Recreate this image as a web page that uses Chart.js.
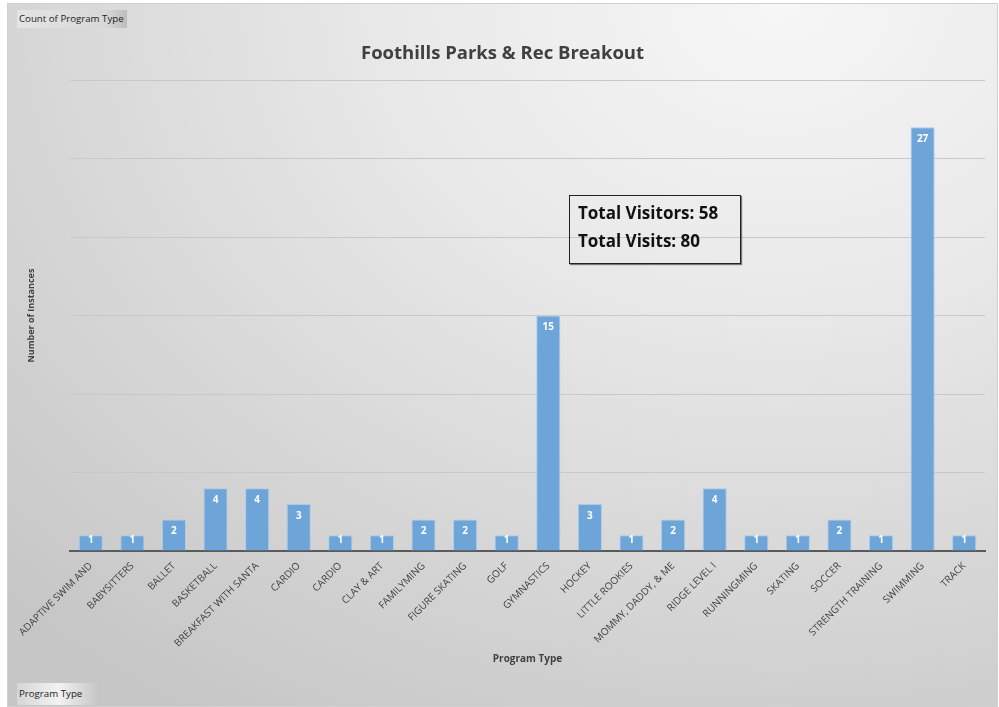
<!DOCTYPE html>
<html lang="en">
<head>
<meta charset="UTF-8">
<title>Foothills Parks & Rec Breakout</title>
<script src="https://cdn.jsdelivr.net/npm/chart.js"></script>
<style>
  html, body { margin: 0; padding: 0; background: #fff; }
  #frame {
    position: absolute; left: 7px; top: 3px; width: 989px; height: 702px;
    border: 1px solid #d0d0d0;
    background: radial-gradient(ellipse 110% 120% at 78% 0%, #f6f6f6 0%, #e9e9e9 35%, #d6d6d6 70%, #c6c6c6 100%);
  }
  #wrap { position: absolute; left: 0; top: 0; width: 999px; height: 707px; }
  .btn {
    position: absolute; font-family: "Open Sans", sans-serif; font-size: 9.7px; color: #222;
    padding: 0 2px; box-sizing: border-box;
  }
  #btnTop { left: 17px; top: 10px; width: 110px; height: 18px; line-height: 18px;
    background: linear-gradient(to right, #e4e4e4, #d8d8d8 80%, #bdbdbd); }
  #btnBottom { left: 17px; top: 683px; width: 84px; height: 22px; line-height: 22px;
    background: linear-gradient(to right, #d6d6d6, #f2f2f2 50%, #c2c2c2); }
  #totals {
    position: absolute; left: 569px; top: 195px; width: 172px; height: 69px; box-sizing: border-box;
    border: 1px solid #222; box-shadow: 1px 1px 1px #777;
    font-family: "Open Sans", sans-serif; font-weight: bold; font-size: 17px; color: #111;
    padding: 3px 0 0 8px; line-height: 28px;
  }
</style>
</head>
<body>
<div id="frame"></div>
<div id="wrap"><canvas id="programChart"></canvas></div>
<div class="btn" id="btnTop">Count of Program Type</div>
<div class="btn" id="btnBottom">Program Type</div>
<div id="totals">Total Visitors: 58<br>Total Visits: 80</div>
<script>
  // data
  const programs = [
    'ADAPTIVE SWIM AND', 'BABYSITTERS', 'BALLET', 'BASKETBALL', 'BREAKFAST WITH SANTA',
    'CARDIO', 'CARDIO', 'CLAY & ART', 'FAMILYMING', 'FIGURE SKATING', 'GOLF', 'GYMNASTICS',
    'HOCKEY', 'LITTLE ROOKIES', 'MOMMY, DADDY, & ME', 'RIDGE LEVEL I', 'RUNNINGMING',
    'SKATING', 'SOCCER', 'STRENGTH TRAINING', 'SWIMMING', 'TRACK'
  ];
  const counts = [1, 1, 2, 4, 4, 3, 1, 1, 2, 2, 1, 15, 3, 1, 2, 4, 1, 1, 2, 1, 27, 1];
  const yMax = 30;
  const yStep = 5;

  const labelFont = "'Open Sans', sans-serif";

  // white count labels inside the top of each bar
  const barLabels = {
    id: 'barLabels',
    afterDatasetsDraw(chart) {
      const ctx = chart.ctx;
      const meta = chart.getDatasetMeta(0);
      ctx.save();
      ctx.fillStyle = '#fff';
      ctx.font = 'bold 10px ' + labelFont;
      ctx.textAlign = 'center';
      ctx.textBaseline = 'middle';
      meta.data.forEach((bar, i) => {
        const h = bar.base - bar.y;
        const y = h > 24 ? bar.y + 12 : bar.y + h / 2 - 3;
        ctx.fillText(String(counts[i]), bar.x, y);
      });
      ctx.restore();
    }
  };

  new Chart(document.getElementById('programChart'), {
    type: 'bar',
    data: {
      labels: programs,
      datasets: [{
        label: 'Count of Program Type',
        data: counts,
        backgroundColor: '#6ea5d9',
        borderColor: '#a9cbeb',
        borderWidth: 1,
        barPercentage: 0.58,
        categoryPercentage: 1
      }]
    },
    options: {
      responsive: true,
      maintainAspectRatio: false,
      animation: false,
      layout: { padding: { left: 20, right: 14, top: 0, bottom: 0 } },
      plugins: {
        legend: { display: false },
        tooltip: { enabled: false },
        title: {
          display: true,
          text: 'Foothills Parks & Rec Breakout',
          color: '#404040',
          font: { family: labelFont, size: 18.5, weight: 'bold' },
          padding: { top: 43, bottom: 15 }
        }
      },
      scales: {
        x: {
          grid: { display: false, drawTicks: false },
          border: { display: true, color: '#5a5a5a', width: 2 },
          ticks: {
            autoSkip: false, minRotation: 45, maxRotation: 45, padding: 9,
            color: '#404040', font: { family: labelFont, size: 10 }
          },
          title: {
            display: true, text: 'Program Type', color: '#404040',
            font: { family: labelFont, size: 10, weight: 'bold' },
            padding: { top: 0, bottom: 42 }
          },
          afterFit(scale) {
            scale.height = 156;
            scale.paddingLeft = 0;
            scale.paddingRight = 0;
          }
        },
        y: {
          min: 0, max: yMax,
          grid: { color: '#c8c8c8', drawTicks: false },
          border: { display: false },
          ticks: { display: false, stepSize: yStep },
          title: {
            display: true, text: 'Number of Instances', color: '#404040',
            font: { family: labelFont, size: 9, weight: 'bold' },
            padding: { top: 6, bottom: 0 }
          },
          afterFit(scale) {
            scale.width = 50;
          }
        }
      }
    },
    plugins: [barLabels]
  });
</script>
</body>
</html>
